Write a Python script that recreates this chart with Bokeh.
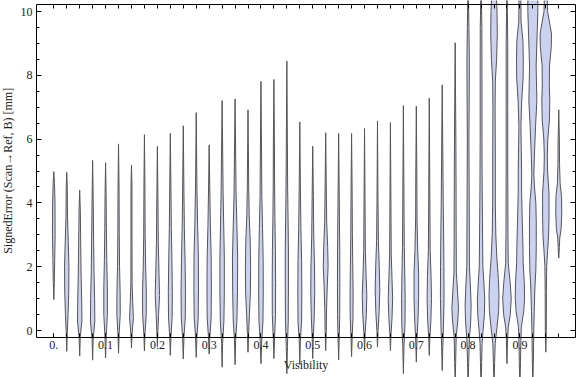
import math
from bokeh.plotting import figure
from bokeh.models import (Range1d, LinearAxis, FixedTicker, SingleIntervalTicker,
                          Label, CustomJSTickFormatter, CustomLabelingPolicy)
from bokeh.embed import file_html
from bokeh.resources import INLINE

# ---------------- data ----------------
vis = [0.0, 0.025, 0.05, 0.075, 0.1, 0.125, 0.15, 0.175, 0.2, 0.225,
       0.25, 0.275, 0.3, 0.325, 0.35, 0.375, 0.4, 0.425, 0.45, 0.475,
       0.5, 0.525, 0.55, 0.575, 0.6, 0.625, 0.65, 0.675, 0.7, 0.725,
       0.75, 0.775, 0.8, 0.825, 0.85, 0.875, 0.9, 0.925, 0.95, 0.975]

err_min = [0.97, -0.65, -0.8, -0.93, -0.86, -0.71, -0.55, -0.64, -0.5, -0.78,
           -0.89, -0.84, -0.74, -1.15, -1.07, -0.68, -1.04, -0.88, -1.35, -1.07,
           -0.88, -0.63, -0.92, -0.82, -0.63, -0.52, -0.63, -1.35, -0.99, -0.78,
           -1.25, -1.7, -1.8, -1.8, -1.8, -1.04, -1.8, -1.8, -0.68, 2.27]

err_max = [4.98, 4.96, 4.4, 5.33, 5.26, 5.85, 5.19, 6.14, 5.77, 6.18,
           6.42, 6.83, 5.82, 7.21, 7.26, 6.92, 7.81, 7.87, 8.45, 6.54,
           5.78, 6.2, 6.18, 6.18, 6.33, 6.57, 6.52, 7.05, 7.03, 7.29,
           7.7, 9.02, 11.0, 11.0, 11.5, 11.0, 11.0, 11.5, 10.8, 6.92]

# density profile of each violin: error levels and relative density there
dens_err = [
    [1.5, 2.2, 3.0, 4.0, 4.6],
    [-0.1, 0.5, 1.2, 2.0, 2.8, 3.5, 4.5],
    [-0.2, 0.3, 0.9, 1.8, 2.8, 3.8],
    [-0.3, 0.3, 1.0, 1.8, 2.8, 4.0],
    [-0.2, 0.5, 1.3, 2.2, 3.2, 4.3],
    [-0.1, 0.5, 1.2, 2.0, 3.0, 4.5],
    [-0.1, 0.4, 0.9, 1.5, 3.0, 4.5],
    [-0.1, 0.5, 1.2, 2.0, 3.0, 4.5],
    [0.0, 0.5, 1.1, 1.8, 2.8, 4.0],
    [-0.2, 0.4, 1.2, 2.2, 3.2, 4.5],
    [-0.2, 0.4, 1.2, 2.2, 3.2, 4.5],
    [-0.2, 0.4, 1.3, 2.3, 3.3, 4.5],
    [-0.2, 0.4, 1.3, 2.3, 3.3, 4.5],
    [-0.4, 0.3, 1.2, 2.3, 3.3, 4.3, 5.5],
    [-0.3, 0.3, 1.2, 2.3, 3.3, 4.3, 5.5],
    [-0.1, 0.5, 1.2, 2.0, 2.8, 3.6, 4.5],
    [-0.3, 0.3, 1.2, 2.2, 3.2, 4.2, 5.5],
    [-0.2, 0.5, 1.5, 2.5, 3.5, 4.5, 6.0],
    [-0.5, 0.3, 1.5, 2.5, 3.5, 4.5, 6.0],
    [-0.3, 0.3, 1.2, 2.2, 3.2, 4.5],
    [-0.2, 0.4, 1.2, 2.0, 3.0, 4.2],
    [0.0, 0.7, 1.4, 2.0, 2.6, 3.4, 4.5],
    [-0.2, 0.5, 1.5, 2.5, 3.5, 4.5],
    [-0.2, 0.4, 1.2, 2.0, 3.0, 4.5],
    [-0.1, 0.5, 1.1, 1.7, 2.5, 4.0],
    [0.0, 0.6, 1.3, 2.0, 2.8, 4.0],
    [-0.1, 0.4, 1.0, 1.6, 2.4, 4.0],
    [-0.5, 0.2, 1.0, 1.8, 2.6, 4.0],
    [-0.3, 0.3, 1.0, 1.8, 2.5, 3.5, 5.0],
    [-0.2, 0.3, 1.0, 1.7, 2.5, 4.0],
    [-0.5, 0.2, 1.0, 2.0, 3.0, 4.0, 5.5],
    [-1.0, -0.2, 0.3, 0.7, 1.2, 1.8, 3.0, 4.5, 6.0],
    [-1.0, -0.3, 0.3, 0.8, 1.3, 2.0, 3.0, 4.5, 6.0, 7.5, 8.5, 9.5],
    [-1.0, -0.4, 0.0, 0.5, 0.95, 1.4, 2.0, 3.0, 4.5, 6.0, 8.0, 9.5],
    [-1.0, -0.4, 0.1, 0.6, 1.1, 1.6, 2.3, 3.0, 4.0, 5.5, 7.0, 7.8, 8.5, 9.3, 10.0, 10.6],
    [-0.3, 0.1, 0.5, 1.0, 1.5, 2.1, 3.0, 5.0, 7.0, 9.0],
    [-1.0, -0.3, 0.1, 0.6, 1.0, 1.5, 2.1, 2.7, 3.4, 4.3, 5.0, 5.8, 6.4, 7.2, 7.9, 8.5, 9.1, 9.7, 10.3],
    [-0.8, 0.0, 0.6, 1.3, 1.9, 2.6, 3.4, 4.0, 4.5, 4.9, 5.6, 6.4, 7.2, 7.8, 8.3, 9.3, 10.0, 10.6],
    [0.0, 1.2, 2.0, 2.5, 2.9, 3.5, 4.3, 5.0, 5.5, 6.0, 6.6, 7.2, 7.7, 8.3, 8.9, 9.3, 9.7, 10.0, 10.3],
    [2.6, 2.9, 3.2, 3.7, 4.2, 4.6, 5.2, 6.0],
]
dens_val = [
    [0.5, 0.9, 1.3, 1.2, 0.7],
    [0.5, 1.3, 2.0, 2.2, 1.5, 0.8, 0.5],
    [0.6, 2.2, 2.0, 1.4, 1.0, 0.6],
    [0.5, 2.2, 2.0, 1.4, 1.0, 0.6],
    [0.6, 1.8, 1.8, 1.2, 0.8, 0.5],
    [0.6, 1.7, 1.6, 1.0, 0.7, 0.5],
    [0.6, 1.9, 1.2, 0.6, 0.5, 0.4],
    [0.6, 1.8, 1.9, 1.2, 0.7, 0.5],
    [0.6, 1.2, 2.2, 1.6, 0.9, 0.6],
    [0.6, 1.8, 2.0, 1.6, 1.0, 0.6],
    [0.7, 2.0, 2.2, 1.8, 1.1, 0.6],
    [0.7, 2.0, 2.3, 2.2, 1.4, 0.7],
    [0.7, 2.0, 2.2, 2.0, 1.2, 0.6],
    [0.5, 1.8, 2.2, 2.2, 1.6, 1.0, 0.6],
    [0.6, 1.8, 2.4, 2.6, 1.8, 1.0, 0.6],
    [0.6, 1.4, 2.4, 2.6, 2.2, 1.2, 0.7],
    [0.8, 2.0, 2.3, 2.2, 1.6, 0.9, 0.6],
    [0.7, 1.6, 1.7, 1.5, 1.0, 0.7, 0.5],
    [0.6, 1.4, 1.6, 1.6, 1.2, 0.8, 0.5],
    [0.6, 1.8, 2.0, 1.8, 1.1, 0.6],
    [0.6, 1.4, 2.0, 1.8, 1.0, 0.6],
    [0.6, 0.9, 1.6, 2.4, 2.0, 1.0, 0.6],
    [0.6, 1.1, 1.2, 1.1, 0.8, 0.5],
    [0.6, 1.4, 1.5, 1.2, 0.8, 0.5],
    [0.6, 1.8, 2.3, 1.6, 0.8, 0.5],
    [0.6, 1.7, 2.3, 1.8, 0.9, 0.5],
    [0.6, 1.6, 2.2, 1.6, 0.8, 0.5],
    [0.6, 1.6, 1.8, 1.4, 0.9, 0.6],
    [0.6, 1.6, 2.3, 2.3, 1.4, 0.7, 0.5],
    [0.6, 1.6, 2.2, 1.8, 0.9, 0.6],
    [0.6, 1.3, 1.8, 1.7, 1.4, 1.0, 0.6],
    [0.5, 1.0, 2.6, 3.3, 2.4, 1.2, 1.0, 0.9, 0.7],
    [0.6, 1.2, 2.6, 3.0, 2.4, 1.3, 1.2, 1.0, 0.8, 1.1, 1.2, 0.8],
    [0.6, 1.0, 2.0, 3.3, 3.7, 3.0, 1.8, 1.5, 1.1, 0.9, 0.9, 0.8],
    [0.6, 1.2, 3.0, 4.6, 5.0, 4.4, 2.8, 1.8, 1.3, 1.3, 1.1, 1.3, 2.6, 3.3, 3.0, 2.2],
    [0.6, 1.3, 3.3, 4.3, 3.2, 1.3, 1.0, 0.8, 0.8, 0.8],
    [0.6, 1.0, 1.4, 3.8, 4.7, 4.4, 3.3, 3.0, 2.4, 1.7, 1.7, 1.3, 1.0, 1.8, 3.2, 3.4, 3.0, 1.1, 1.0],
    [0.6, 0.9, 1.4, 2.0, 3.0, 3.4, 3.4, 3.0, 1.6, 1.0, 1.7, 2.7, 4.0, 3.6, 3.3, 4.3, 5.0, 5.0],
    [0.5, 0.6, 0.9, 1.8, 2.7, 3.2, 3.2, 1.8, 1.5, 2.0, 3.6, 4.0, 3.5, 3.7, 5.5, 5.7, 3.5, 1.8, 1.6],
    [0.6, 1.0, 2.4, 3.0, 2.8, 1.4, 0.8, 0.6],
]

xtick_vals = [0.0, 0.1, 0.2, 0.3, 0.4, 0.5, 0.6, 0.7, 0.8, 0.9]
xtick_labels = ["0.", "0.1", "0.2", "0.3", "0.4", "0.5", "0.6", "0.7", "0.8", "0.9"]
ytick_vals = [0, 2, 4, 6, 8, 10]

x_title = "Visibility"
y_title = "SignedError (Scan\u2192Ref, B) [mm]"

# ---------------- styling / layout ----------------
FONT = "Liberation Serif"
FILL = "#cbd2f1"
EDGE = "#555555"
PX_PER_X = 517.9          # pixels per unit of visibility
PX_PER_Y = 31.9           # pixels per mm
MIN_DENS = 0.5
AXIS_AT = -0.21           # where the bottom frame line sits (mm)
Y_TOP = 10.22             # where the top frame line sits (mm)
X0, X1 = -0.0334, 1.0073  # left / right frame lines (visibility)
W, H = 576, 377
LEFT_PX, TOP_PX = 36, 4

XL = X0 - LEFT_PX / PX_PER_X
XR = XL + W / PX_PER_X
YT = Y_TOP + TOP_PX / PX_PER_Y
YB = YT - H / PX_PER_Y

p = figure(width=W, height=H,
           x_range=Range1d(XL, XR), y_range=Range1d(YB, YT),
           output_backend="svg", toolbar_location=None,
           x_axis_type=None, y_axis_type=None,
           min_border_left=0, min_border_right=0, min_border_top=0, min_border_bottom=0)
p.outline_line_color = None
p.background_fill_color = "white"
p.border_fill_color = "white"

xs_all, ys_all = [], []
for c, lo, hi, ev, dv in zip(vis, err_min, err_max, dens_err, dens_val):
    ys = [lo] + ev + [hi]
    ws = [0.0] + [max(d, MIN_DENS) / PX_PER_X for d in dv] + [0.0]
    right = [c + w for w in ws]
    left = [c - w for w in ws]
    xs_all.append(right + left[::-1])
    ys_all.append(ys + ys[::-1])

p.patches(xs_all, ys_all, fill_color=FILL, line_color=EDGE, line_width=1)

fmt = CustomJSTickFormatter(args=dict(vals=xtick_vals, labs=xtick_labels), code="""
    for (let i = 0; i < vals.length; i++) {
        if (Math.abs(vals[i] - tick) < 1e-9) return labs[i];
    }
    return '';
""")

no_labels = CustomLabelingPolicy(code="""
    for (const i of indices) { indices.unset(i) }
    return indices
""")

def style(ax):
    ax.axis_line_color = "black"
    ax.major_tick_line_color = "black"
    ax.minor_tick_line_color = "black"
    ax.major_tick_out = 0
    ax.minor_tick_out = 0
    ax.major_label_text_font = FONT
    ax.major_label_text_font_size = "12px"
    ax.major_label_text_color = "#222222"
    ax.axis_label_text_font = FONT
    ax.axis_label_text_font_size = "12px"
    ax.axis_label_text_font_style = "normal"
    ax.axis_label_text_color = "#222222"

def ticks_only(ax):
    ax.major_label_policy = no_labels
    ax.major_label_text_font_size = "1px"
    ax.major_label_standoff = 0

# bottom axis
xb = LinearAxis(ticker=FixedTicker(ticks=xtick_vals, minor_ticks=vis),
                formatter=fmt, fixed_location=AXIS_AT, bounds=(X0, X1),
                axis_label=x_title)
style(xb)
xb.major_tick_in = 4
xb.minor_tick_in = 4
xb.major_label_standoff = 4
xb.axis_label_standoff = 5
p.add_layout(xb, "below")

# top axis: ticks only
xt = LinearAxis(ticker=FixedTicker(ticks=vis), fixed_location=Y_TOP, bounds=(X0, X1))
style(xt)
xt.major_tick_in = 4
ticks_only(xt)
p.add_layout(xt, "above")

# left axis
yl = LinearAxis(ticker=SingleIntervalTicker(interval=2, num_minor_ticks=4),
                fixed_location=X0, bounds=(AXIS_AT, Y_TOP))
style(yl)
yl.major_tick_in = 5
yl.minor_tick_in = 3
yl.major_label_standoff = 4
p.add_layout(yl, "left")

# right axis: ticks only
yr = LinearAxis(ticker=SingleIntervalTicker(interval=2, num_minor_ticks=4),
                fixed_location=X1, bounds=(AXIS_AT, Y_TOP))
style(yr)
yr.major_tick_in = 5
yr.minor_tick_in = 3
ticks_only(yr)
p.add_layout(yr, "right")

ylab = Label(x=X0 - 28.5 / PX_PER_X, y=(AXIS_AT + Y_TOP) / 2,
             text=y_title, angle=math.pi / 2, text_align="center",
             text_baseline="middle", text_font=FONT, text_font_size="12px",
             text_color="#222222")
p.add_layout(ylab)

open("out.html", "w").write(file_html(p, INLINE))
